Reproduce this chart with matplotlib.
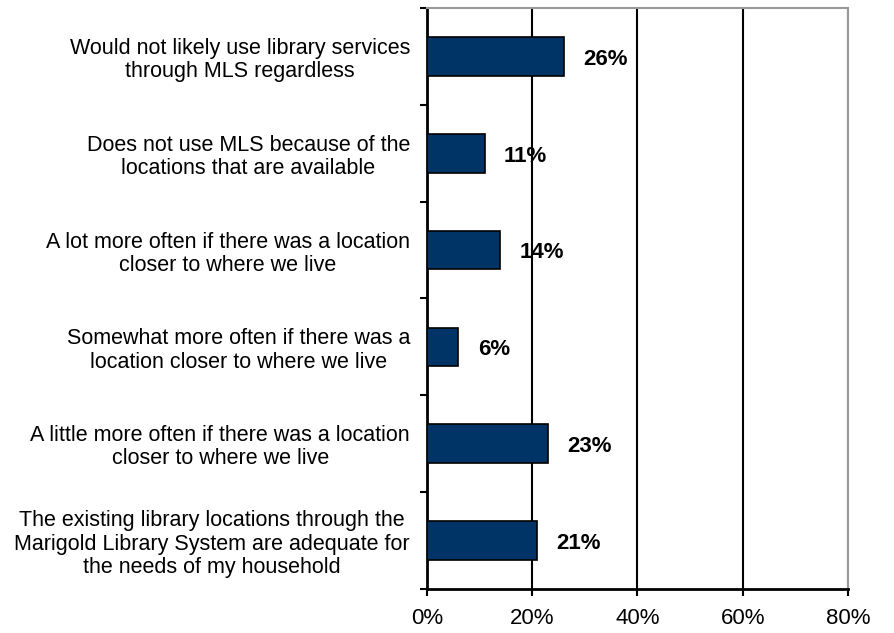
import numpy as np
import matplotlib
matplotlib.use("Agg")
import matplotlib.pyplot as plt

plt.rcParams["font.family"] = ["Liberation Sans", "DejaVu Sans"]

# 数据
categories = [
    "Would not likely use library services\nthrough MLS regardless",
    "Does not use MLS because of the\nlocations that are available",
    "A lot more often if there was a location\ncloser to where we live",
    "Somewhat more often if there was a\nlocation closer to where we live",
    "A little more often if there was a location\ncloser to where we live",
    "The existing library locations through the\nMarigold Library System are adequate for\nthe needs of my household",
]
values = [26, 11, 14, 6, 23, 21]
x_ticks = [0, 20, 40, 60, 80]
x_tick_labels = ["0%", "20%", "40%", "60%", "80%"]

fig = plt.figure(figsize=(8.94, 6.33), dpi=100)
ax = fig.add_axes([0.4773, 0.0695, 0.9485 - 0.4773, 0.9874 - 0.0695])

y = np.arange(len(categories))
ax.barh(y, values, height=0.4, color="#003366", edgecolor="black",
        linewidth=1.2, zorder=3)

# 数值标签
for yi, v in zip(y, values):
    ax.annotate(f"{v}%", xy=(v, yi), xytext=(14, -2), textcoords="offset points",
                ha="left", va="center", fontsize=16, fontweight="bold", zorder=4)

ax.set_xlim(0, 80)
ax.set_ylim(len(categories) - 0.5, -0.5)

ax.set_xticks(x_ticks)
ax.set_xticklabels(x_tick_labels, fontsize=16)
ax.tick_params(axis="x", direction="out", length=5, width=1.5, pad=9)

ax.set_yticks(y)
ax.set_yticklabels(categories, fontsize=15.5, multialignment="center",
                   linespacing=1.14)
ax.tick_params(axis="y", which="major", length=0, pad=12)
ax.set_yticks(np.arange(-0.5, len(categories)), minor=True)
ax.tick_params(axis="y", which="minor", direction="out", length=5, width=1.5)

ax.grid(True, axis="x", color="black", linewidth=1.5, zorder=1)
ax.set_axisbelow(True)

ax.spines["left"].set_linewidth(2)
ax.spines["bottom"].set_linewidth(2)
ax.spines["top"].set_color("#999999")
ax.spines["right"].set_color("#999999")
ax.spines["top"].set_linewidth(1.5)
ax.spines["right"].set_linewidth(1.5)

fig.savefig("out.png", dpi=100)
